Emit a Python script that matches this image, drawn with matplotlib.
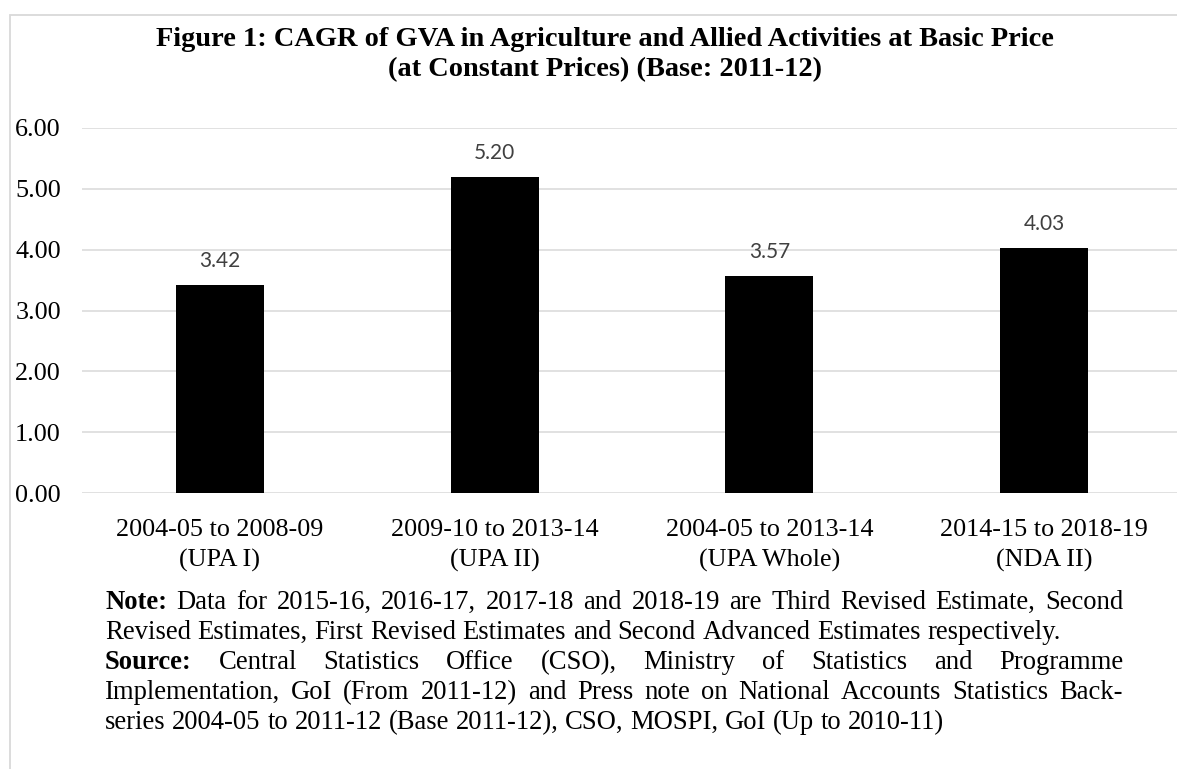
import matplotlib
matplotlib.use("Agg")
import matplotlib.pyplot as plt
from matplotlib.patches import Rectangle

# ---- data -------------------------------------------------------------
periods = ["2004-05 to 2008-09", "2009-10 to 2013-14",
           "2004-05 to 2013-14", "2014-15 to 2018-19"]
governments = ["(UPA I)", "(UPA II)", "(UPA Whole)", "(NDA II)"]
cagr = [3.42, 5.20, 3.57, 4.03]
y_ticks = [0, 1, 2, 3, 4, 5, 6]

title_lines = ["Figure 1: CAGR of GVA in Agriculture and Allied Activities at Basic Price",
               "(at Constant Prices) (Base: 2011-12)"]

# footnote lines: (text, bold prefix, justified)
note_lines = [
    ("Data for 2015-16, 2016-17, 2017-18 and 2018-19 are Third Revised Estimate, Second", "Note:", True),
    ("Revised Estimates, First Revised Estimates and Second Advanced Estimates respectively.", None, False),
    ("Central Statistics Office (CSO), Ministry of Statistics and Programme", "Source:", True),
    ("Implementation, GoI (From 2011-12) and Press note on National Accounts Statistics Back-", None, True),
    ("series 2004-05 to 2011-12 (Base 2011-12), CSO, MOSPI, GoI (Up to 2010-11)", None, False),
]

# ---- figure -----------------------------------------------------------
W, H = 1177, 769
fig = plt.figure(figsize=(W / 100, H / 100), dpi=100)
fig.patch.set_facecolor("white")

SERIF = "Liberation Serif"
GRID = "#d9d9d9"


def fx(x):
    return x / W


def fy(y):
    return 1 - y / H


# outer chart frame (left and top edges visible)
fig.add_artist(Rectangle((fx(10), fy(H + 20)), fx(W + 20 - 10), (H + 20 - 15) / H,
                         transform=fig.transFigure, fill=False,
                         edgecolor=GRID, linewidth=1.3))

ax = fig.add_axes([fx(82.5), fy(493), 1099 / W, 365 / H])
x = list(range(len(cagr)))
ax.bar(x, cagr, width=0.32, color="black", zorder=3)
ax.set_xlim(-0.5, 3.5)
ax.set_ylim(0, 6)
ax.set_yticks(y_ticks)
ax.set_yticklabels([f"{v:.2f}" for v in y_ticks], fontfamily=SERIF, fontsize=18.8)
ax.set_xticks(x)
ax.set_xticklabels([f"{p}\n{g}" for p, g in zip(periods, governments)],
                   fontfamily=SERIF, fontsize=18.8, linespacing=1.45)
ax.tick_params(axis="both", length=0)
ax.tick_params(axis="y", pad=15.5)
ax.tick_params(axis="x", pad=19)
for s in ax.spines.values():
    s.set_visible(False)
ax.grid(axis="y", color=GRID, linewidth=1.1, zorder=0)
ax.set_axisbelow(True)

for xi, v in zip(x, cagr):
    ax.annotate(f"{v:.2f}", (xi, v), xytext=(0, 14), textcoords="offset pixels",
                ha="center", va="bottom", fontfamily="Lato", fontsize=15,
                color="#404040")

# title
for i, line in enumerate(title_lines):
    fig.text(fx(605), fy(46 + 30 * i), line, ha="center", va="baseline",
             fontfamily=SERIF, fontweight="bold", fontsize=20.4)

# footnote with justified lines
renderer = fig.canvas.get_renderer()
FS = 19.2
left_px, right_px = 105, 1123
base_y0, line_dy = 609, 30


def width_px(txt, weight="normal"):
    t = fig.text(0, 0, txt, fontfamily=SERIF, fontsize=FS, fontweight=weight)
    w = t.get_window_extent(renderer).width
    t.remove()
    return w


space_w = width_px("a a") - width_px("aa")

for i, (text, prefix, justify) in enumerate(note_lines):
    words = [(prefix, "bold")] if prefix else []
    words += [(w, "normal") for w in text.split(" ")]
    widths = [width_px(w, wt) for w, wt in words]
    if justify and len(words) > 1:
        gap = (right_px - left_px - sum(widths)) / (len(words) - 1)
    else:
        gap = space_w
    xpos = left_px
    ypos = base_y0 + line_dy * i
    for (w, wt), wd in zip(words, widths):
        fig.text(fx(xpos), fy(ypos), w, ha="left", va="baseline",
                 fontfamily=SERIF, fontsize=FS, fontweight=wt)
        xpos += wd + gap

fig.savefig("out.png", dpi=100)
